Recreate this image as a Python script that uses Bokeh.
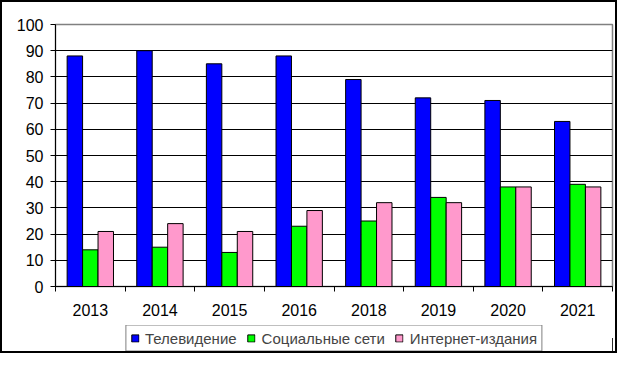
import numpy as np
from bokeh.plotting import figure
from bokeh.models import Range1d, FixedTicker, Legend, LegendItem
from bokeh.layouts import column
from bokeh.embed import file_html
from bokeh.resources import INLINE

years = ["2013", "2014", "2015", "2016", "2018", "2019", "2020", "2021"]
tv = [88, 90, 85, 88, 79, 72, 71, 63]
social = [14, 15, 13, 23, 25, 34, 38, 39]
internet = [21, 24, 21, 29, 32, 32, 38, 38]
series_names = ["Телевидение", "Социальные сети", "Интернет-издания"]
colors = ["#0000FF", "#00FF00", "#FF99CC"]
y_ticks = [0, 10, 20, 30, 40, 50, 60, 70, 80, 90, 100]

FONT = "Liberation Sans"
W = 613

p = figure(width=W, height=320, output_backend="svg", toolbar_location=None,
           x_range=Range1d(0, len(years)), y_range=Range1d(0, 100),
           min_border_left=53, min_border_right=3, min_border_top=22, min_border_bottom=36)

centers = np.arange(len(years)) + 0.5
w = 0.222
for vals, off, col in zip([tv, social, internet], [-w, 0, w], colors):
    p.vbar(x=centers + off, top=vals, width=w, bottom=0,
           fill_color=col, line_color="black", line_width=1)

# axes
p.yaxis.ticker = FixedTicker(ticks=y_ticks)
p.yaxis.major_tick_out = 5
p.yaxis.major_tick_in = 0
p.yaxis.minor_tick_line_color = None
p.yaxis.axis_line_color = "black"
p.yaxis.major_label_standoff = 7
p.yaxis.major_label_text_font = FONT
p.yaxis.major_label_text_font_size = "16px"
p.yaxis.major_label_text_color = "black"

p.xaxis.ticker = FixedTicker(ticks=list(centers), minor_ticks=list(range(len(years) + 1)))
p.xaxis.major_label_overrides = {float(c): y for c, y in zip(centers, years)}
p.xaxis.major_tick_out = 0
p.xaxis.major_tick_in = 0
p.xaxis.minor_tick_out = 5
p.xaxis.minor_tick_in = 0
p.xaxis.minor_tick_line_color = "black"
p.xaxis.axis_line_color = "black"
p.xaxis.major_label_standoff = 12
p.xaxis.major_label_text_font = FONT
p.xaxis.major_label_text_font_size = "16px"
p.xaxis.major_label_text_color = "black"

p.xgrid.grid_line_color = None
p.ygrid.ticker = FixedTicker(ticks=y_ticks[1:-1])
p.ygrid.grid_line_color = "black"
p.ygrid.grid_line_width = 1

p.outline_line_color = "#808080"
p.outline_line_width = 1.5

# legend strip
lg = figure(width=W, height=29, output_backend="svg", toolbar_location=None,
            x_range=Range1d(0, 1), y_range=Range1d(0, 1),
            x_axis_location=None, y_axis_location=None,
            min_border_left=53, min_border_right=3, min_border_top=3, min_border_bottom=0)
lg.grid.grid_line_color = None
lg.outline_line_color = None
dummy = [lg.vbar(x=[10], top=[0.5], width=0.1, fill_color=c, line_color="black") for c in colors]
legend = Legend(items=[LegendItem(label=n, renderers=[r]) for n, r in zip(series_names, dummy)],
                orientation="horizontal", location="center",
                glyph_width=9, glyph_height=9, label_standoff=6, spacing=10,
                padding=4, margin=0, label_height=16,
                label_text_font=FONT, label_text_font_size="15px",
                border_line_color="black", border_line_width=1,
                background_fill_alpha=1)
lg.add_layout(legend, "center")

box = column(p, lg, spacing=0)
box.styles = {"border": "2px solid black"}

open("out.html", "w").write(file_html(box, INLINE))
